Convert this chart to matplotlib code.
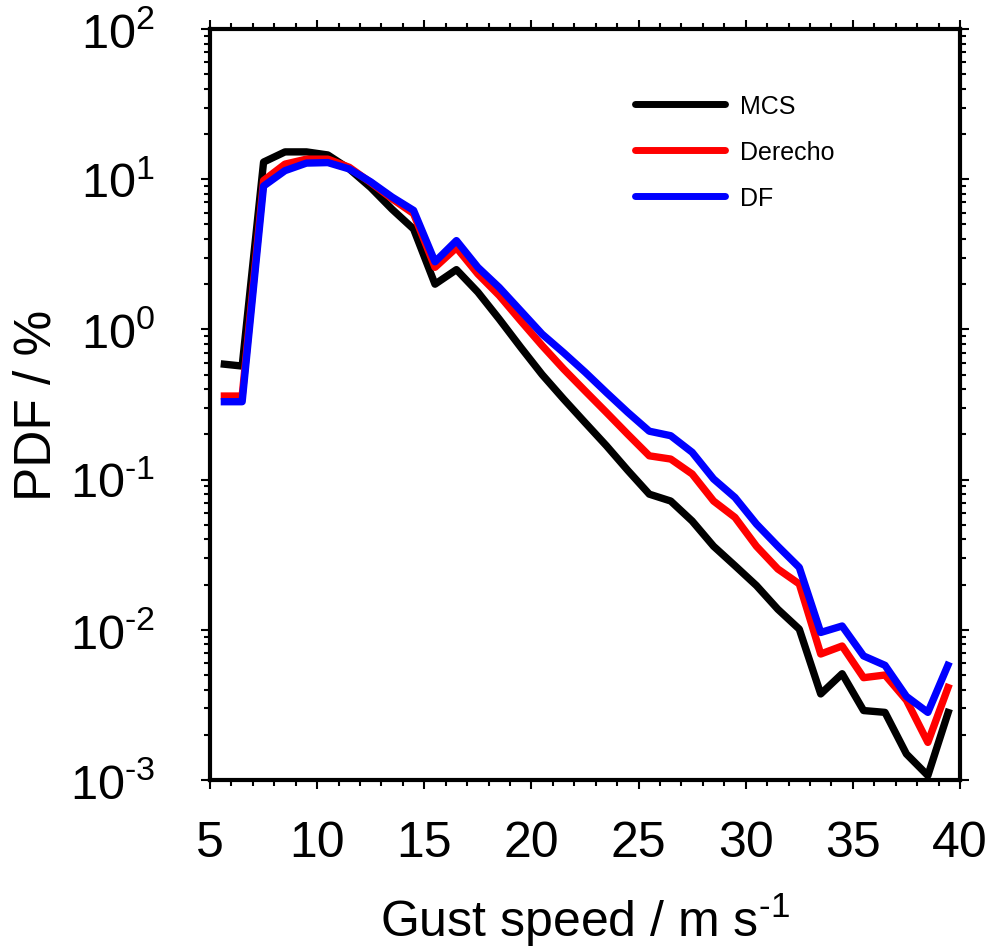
import math
import matplotlib
matplotlib.use('Agg')
import matplotlib.pyplot as plt
from matplotlib.ticker import FixedLocator, FuncFormatter, LogLocator, NullFormatter

plt.rcParams['font.family'] = ['Liberation Sans', 'DejaVu Sans']
plt.rcParams['mathtext.fontset'] = 'custom'
plt.rcParams['mathtext.rm'] = 'Liberation Sans'
plt.rcParams['mathtext.default'] = 'regular'

gust_speed = [5.5, 6.5, 7.5, 8.5, 9.5, 10.5, 11.5, 12.5, 13.5, 14.5,
              15.5, 16.5, 17.5, 18.5, 19.5, 20.5, 21.5, 22.5, 23.5, 24.5,
              25.5, 26.5, 27.5, 28.5, 29.5, 30.5, 31.5, 32.5, 33.5, 34.5,
              35.5, 36.5, 37.5, 38.5, 39.5]

mcs = [0.59, 0.57, 13.0, 15.2, 15.2, 14.5, 11.7, 8.8, 6.3, 4.66,
       2.0, 2.5, 1.77, 1.17, 0.76, 0.50, 0.344, 0.24, 0.168, 0.115,
       0.080, 0.072, 0.053, 0.036, 0.0267, 0.0197, 0.0137, 0.0101, 0.00374, 0.0051,
       0.0029, 0.00282, 0.00149, 0.00107, 0.00297]

derecho = [0.36, 0.36, 9.8, 12.6, 13.6, 13.6, 12.0, 9.5, 7.4, 5.9,
           2.59, 3.5, 2.34, 1.68, 1.14, 0.78, 0.545, 0.39, 0.28, 0.20,
           0.144, 0.137, 0.109, 0.072, 0.056, 0.036, 0.0254, 0.0202, 0.0069, 0.0078,
           0.0048, 0.0050, 0.0034, 0.00178, 0.00435]

df = [0.33, 0.33, 9.0, 11.4, 12.8, 12.9, 11.7, 9.6, 7.6, 6.2,
      2.82, 3.9, 2.59, 1.9, 1.33, 0.93, 0.70, 0.52, 0.38, 0.28,
      0.21, 0.196, 0.152, 0.101, 0.076, 0.0506, 0.036, 0.026, 0.0096, 0.0106,
      0.0067, 0.0058, 0.0036, 0.00282, 0.0061]

series_names = ['MCS', 'Derecho', 'DF']
series_colors = ['black', 'red', 'blue']
x_ticks = [5, 10, 15, 20, 25, 30, 35, 40]
y_ticks = [1e-3, 1e-2, 1e-1, 1e0, 1e1, 1e2]

W, H = 991, 953
fig = plt.figure(figsize=(W / 100, H / 100), dpi=100)
ax = fig.add_axes([210 / W, 1 - 781 / H, 750 / W, 751 / H])

for vals, name, col in zip([mcs, derecho, df], series_names, series_colors):
    ax.plot(gust_speed, vals, color=col, lw=5.3, label=name,
            solid_joinstyle='round', solid_capstyle='butt')

ax.set_yscale('log')
ax.set_xlim(5, 40)
ax.set_ylim(1e-3, 1e2)


def exp_fmt(v, p):
    e = round(math.log10(v))
    if e < 0:
        return r'$10^{\text{-}%d}$' % (-e)
    return r'$10^{%d}$' % e


ax.xaxis.set_major_locator(FixedLocator(x_ticks))
ax.xaxis.set_minor_locator(FixedLocator(list(range(5, 41))))
ax.yaxis.set_major_locator(FixedLocator(y_ticks))
ax.yaxis.set_minor_locator(LogLocator(base=10, subs=[2, 3, 4, 5, 6, 7, 8, 9], numticks=20))
ax.yaxis.set_minor_formatter(NullFormatter())
ax.yaxis.set_major_formatter(FuncFormatter(exp_fmt))

for s in ax.spines.values():
    s.set_linewidth(3)

ax.tick_params(which='both', direction='out', top=True, right=True, width=1.5)
ax.tick_params(which='major', length=6.5, labelsize=36)
ax.tick_params(axis='y', which='major', labelsize=35, pad=33)
ax.tick_params(which='minor', length=4)
ax.tick_params(axis='x', which='major', pad=22)

ax.set_xlabel('Gust speed / m s$^{\\text{-}1}$', fontsize=36, labelpad=18)
ax.set_ylabel('PDF / %', fontsize=37, labelpad=6)

leg = ax.legend(loc='upper left', bbox_to_anchor=(0.567, 0.914), frameon=False,
                fontsize=18, handlelength=3.6, handletextpad=0.6,
                labelspacing=0.89, borderpad=0, borderaxespad=0)
for line in leg.get_lines():
    line.set_linewidth(5)
    line.set_solid_capstyle('round')

fig.savefig('out.png', dpi=100)
